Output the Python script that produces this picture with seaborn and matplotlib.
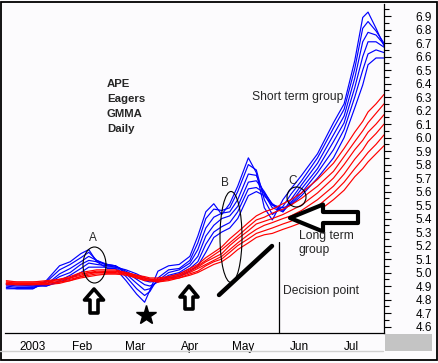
import matplotlib
matplotlib.use("Agg")
import matplotlib.pyplot as plt
from matplotlib.patches import Ellipse, Polygon, Rectangle
from matplotlib.lines import Line2D
from matplotlib.ticker import MultipleLocator
import numpy as np
import pandas as pd
import seaborn as sns

# trading session index (0 = late Dec 2002)
sessions = [0, 4, 10, 15, 20, 24, 28, 31, 34, 38, 41, 45, 49, 52, 54, 57, 61, 65, 69, 72,
            75, 78, 81, 84, 87, 91, 94, 97, 100, 104, 107, 111, 117, 123, 127, 131, 134, 136, 139, 142]

# short term group (blue)
s3 = [4.88, 4.88, 4.88, 4.94, 5.05, 5.08, 5.14, 5.17, 5.08, 5.03, 5.03, 4.94, 4.84, 4.78, 4.87, 5.01, 5.05, 5.06, 5.12, 5.27,
      5.45, 5.51, 5.43, 5.51, 5.64, 5.85, 5.74, 5.48, 5.39, 5.54, 5.62, 5.72, 5.88, 6.11, 6.25, 6.57, 6.89, 6.93, 6.81, 6.68]
s5 = [4.89, 4.88, 4.88, 4.93, 5.02, 5.06, 5.11, 5.15, 5.09, 5.05, 5.04, 4.97, 4.88, 4.83, 4.86, 4.96, 5.02, 5.03, 5.09, 5.22,
      5.40, 5.47, 5.46, 5.48, 5.60, 5.80, 5.76, 5.54, 5.43, 5.49, 5.58, 5.68, 5.85, 6.07, 6.21, 6.51, 6.81, 6.86, 6.79, 6.70]
s8 = [4.90, 4.89, 4.89, 4.91, 4.99, 5.03, 5.08, 5.12, 5.09, 5.06, 5.05, 4.99, 4.92, 4.87, 4.88, 4.94, 5.00, 5.02, 5.07, 5.17,
      5.33, 5.41, 5.44, 5.45, 5.54, 5.73, 5.72, 5.58, 5.48, 5.45, 5.54, 5.65, 5.81, 6.02, 6.16, 6.44, 6.71, 6.78, 6.76, 6.69]
s10 = [4.91, 4.90, 4.90, 4.91, 4.97, 5.00, 5.06, 5.09, 5.08, 5.06, 5.05, 5.00, 4.95, 4.91, 4.90, 4.93, 4.98, 5.00, 5.05, 5.12,
       5.27, 5.35, 5.40, 5.42, 5.49, 5.67, 5.68, 5.60, 5.50, 5.45, 5.52, 5.62, 5.77, 5.97, 6.11, 6.37, 6.60, 6.71, 6.71, 6.67]
s12 = [4.91, 4.91, 4.90, 4.90, 4.94, 4.98, 5.03, 5.07, 5.06, 5.05, 5.05, 5.01, 4.97, 4.94, 4.93, 4.94, 4.97, 4.99, 5.03, 5.08,
       5.21, 5.30, 5.34, 5.37, 5.45, 5.62, 5.63, 5.59, 5.51, 5.46, 5.51, 5.59, 5.74, 5.91, 6.06, 6.30, 6.50, 6.62, 6.65, 6.63]
s15 = [4.92, 4.91, 4.91, 4.90, 4.93, 4.96, 5.00, 5.04, 5.04, 5.04, 5.04, 5.02, 4.99, 4.96, 4.95, 4.94, 4.96, 4.97, 5.01, 5.05,
       5.15, 5.26, 5.30, 5.33, 5.40, 5.57, 5.60, 5.57, 5.50, 5.48, 5.50, 5.57, 5.70, 5.85, 6.00, 6.22, 6.39, 6.54, 6.59, 6.59]

# long term group (red)
l30 = [4.94, 4.93, 4.93, 4.94, 4.95, 4.97, 5.00, 5.01, 5.02, 5.02, 5.02, 5.00, 4.98, 4.97, 4.96, 4.96, 4.97, 4.99, 5.03, 5.06,
       5.11, 5.15, 5.19, 5.25, 5.30, 5.37, 5.42, 5.45, 5.47, 5.51, 5.54, 5.59, 5.69, 5.81, 5.92, 6.04, 6.12, 6.19, 6.25, 6.32]
l35 = [4.93, 4.93, 4.93, 4.93, 4.95, 4.96, 4.99, 5.00, 5.01, 5.01, 5.01, 5.00, 4.98, 4.96, 4.95, 4.95, 4.96, 4.98, 5.02, 5.05,
       5.09, 5.13, 5.17, 5.22, 5.27, 5.34, 5.39, 5.41, 5.44, 5.47, 5.50, 5.55, 5.64, 5.75, 5.86, 5.97, 6.05, 6.11, 6.18, 6.25]
l40 = [4.93, 4.92, 4.92, 4.93, 4.94, 4.96, 4.98, 5.00, 5.00, 5.01, 5.01, 4.99, 4.97, 4.96, 4.95, 4.95, 4.96, 4.98, 5.01, 5.04,
       5.08, 5.11, 5.14, 5.20, 5.25, 5.31, 5.36, 5.38, 5.40, 5.43, 5.46, 5.50, 5.59, 5.70, 5.80, 5.91, 5.98, 6.04, 6.10, 6.17]
l45 = [4.92, 4.92, 4.92, 4.92, 4.93, 4.95, 4.97, 4.99, 5.00, 5.00, 5.00, 4.99, 4.97, 4.95, 4.94, 4.94, 4.95, 4.97, 5.00, 5.03,
       5.06, 5.09, 5.12, 5.17, 5.22, 5.28, 5.32, 5.35, 5.37, 5.40, 5.42, 5.46, 5.54, 5.64, 5.73, 5.84, 5.91, 5.97, 6.03, 6.10]
l50 = [4.92, 4.91, 4.91, 4.92, 4.93, 4.94, 4.97, 4.98, 4.99, 4.99, 4.99, 4.99, 4.96, 4.95, 4.94, 4.93, 4.95, 4.96, 4.99, 5.01,
       5.05, 5.08, 5.10, 5.15, 5.20, 5.25, 5.29, 5.31, 5.33, 5.36, 5.38, 5.42, 5.49, 5.59, 5.67, 5.77, 5.84, 5.89, 5.95, 6.02]
l60 = [4.91, 4.91, 4.91, 4.91, 4.92, 4.94, 4.96, 4.97, 4.98, 4.99, 4.99, 4.98, 4.96, 4.94, 4.94, 4.93, 4.94, 4.96, 4.98, 5.00,
       5.03, 5.06, 5.08, 5.12, 5.17, 5.22, 5.26, 5.28, 5.29, 5.32, 5.34, 5.37, 5.45, 5.54, 5.61, 5.71, 5.77, 5.82, 5.88, 5.94]

month_starts = [4, 24, 44, 65, 84, 106, 126]
month_labels = ["2003", "Feb", "Mar", "Apr", "May", "Jun", "Jul"]

short_term = {"EMA3": s3, "EMA5": s5, "EMA8": s8, "EMA10": s10, "EMA12": s12, "EMA15": s15}
long_term = {"EMA30": l30, "EMA35": l35, "EMA40": l40, "EMA45": l45, "EMA50": l50, "EMA60": l60}

frames = []
for name, vals in list(short_term.items()) + list(long_term.items()):
    frames.append(pd.DataFrame({"session": sessions, "price": vals, "ema": name}))
df = pd.concat(frames, ignore_index=True)

palette = {n: "#0000ff" for n in short_term}
palette.update({n: "#ff0000" for n in long_term})

sns.set_style("white")
plt.rcParams["font.family"] = ["Liberation Sans", "DejaVu Sans"]

W, H = 439, 363
bg = "#fcfbfd"


def fp(x, y):
    # pixel position (top-left origin) -> figure fraction
    return (x / W, 1 - y / H)


fig = plt.figure(figsize=(W / 100, H / 100), dpi=100, facecolor=bg)
ax = fig.add_axes([5 / W, 1 - 333 / H, 379 / W, 329 / H], facecolor=bg)

sns.lineplot(data=df, x="session", y="price", hue="ema", palette=palette,
             legend=False, estimator=None, sort=False, lw=0.85, ax=ax)

ax.set_xlim(-0.5, 142)
ax.set_ylim(4.552, 6.99)
ax.set_xlabel("")
ax.set_ylabel("")

for s in ["left", "top"]:
    ax.spines[s].set_visible(False)
for s in ["right", "bottom"]:
    ax.spines[s].set_color("black")
    ax.spines[s].set_linewidth(0.9)

# y axis on the right
yt = np.round(np.arange(4.6, 6.95, 0.1), 1)
ax.yaxis.tick_right()
ax.set_yticks(yt, labels=[f"{v:.1f}" for v in yt])
ax.yaxis.set_minor_locator(MultipleLocator(0.05))
ax.tick_params(axis="y", which="major", direction="out", length=5, width=0.8,
               color="black", pad=29.5, labelsize=8.5, labelcolor="black")
ax.tick_params(axis="y", which="minor", direction="out", length=3.5, width=0.8, color="black")
for t in ax.get_yticklabels():
    t.set_horizontalalignment("right")

# x axis: month ticks and weekly minor ticks
weekly = []
for i, m in enumerate(month_starts):
    end = month_starts[i + 1] if i + 1 < len(month_starts) else 142
    weekly += list(range(m + 5, end - 1, 5))
weekly = [0] + weekly
ax.set_xticks(month_starts, labels=[""] * len(month_starts))
ax.set_xticks(weekly, minor=True)
ax.tick_params(axis="x", which="major", direction="out", length=12.5, width=0.8, color="black")
ax.tick_params(axis="x", which="minor", direction="out", length=3.5, width=0.8, color="black")
for m, lab in zip(month_starts, month_labels):
    ax.annotate(lab, xy=(m, 0), xycoords=("data", "axes fraction"),
                xytext=(1.5, -6), textcoords="offset points",
                ha="left", va="top", fontsize=8.5, color="black")

# date strip border and grey box
fig.add_artist(Line2D([0 / W, 383 / W], [1 - 350.5 / H] * 2, color="#d0d0d0", lw=1,
                      transform=fig.transFigure))
fig.add_artist(Rectangle(fp(385, 351), 47 / W, 17 / H, transform=fig.transFigure,
                         facecolor="#c4c4c4", edgecolor="none"))

# outer frame
fig.add_artist(Rectangle(fp(1, 360), 436 / W, 358 / H, transform=fig.transFigure,
                         fill=False, edgecolor="black", lw=1.3))

# titles and notes
for txt, yb in zip(["APE", "Eagers", "GMMA", "Daily"], [87, 102, 117, 132]):
    fig.text(*fp(107, yb), txt, fontsize=8.2, fontweight="bold", va="baseline", ha="left")
fig.text(*fp(252, 100), "Short term group", fontsize=8.7, va="baseline")
fig.text(*fp(299, 239), "Long term", fontsize=8.7, va="baseline")
fig.text(*fp(299, 253), "group", fontsize=8.7, va="baseline")
fig.text(*fp(283, 294), "Decision point", fontsize=8.7, va="baseline")
fig.text(*fp(93, 238), "A", fontsize=8.5, ha="center", va="center")
fig.text(*fp(225, 183), "B", fontsize=8.5, ha="center", va="center")
fig.text(*fp(293, 181), "C", fontsize=8.5, ha="center", va="center")

# circles around A, B, C
for cx, cy, w, h in [(94.5, 265, 23, 36), (231, 237, 22, 91), (296.5, 197, 19, 20)]:
    fig.add_artist(Ellipse(fp(cx, cy), w / W, h / H, transform=fig.transFigure,
                           fill=False, edgecolor="black", lw=0.8))

# decision point line and trend line
fig.add_artist(Line2D([279 / W, 279 / W], [1 - 242 / H, 1 - 333 / H], color="black", lw=0.9,
                      transform=fig.transFigure))
fig.add_artist(Line2D([219 / W, 272 / W], [1 - 295 / H, 1 - 246 / H], color="black", lw=3.2,
                      solid_capstyle="round", transform=fig.transFigure))


def up_arrow(cx, top, hw, sw, hh, bottom):
    pts = [(cx, top), (cx + hw, top + hh), (cx + sw, top + hh), (cx + sw, bottom),
           (cx - sw, bottom), (cx - sw, top + hh), (cx - hw, top + hh)]
    return Polygon([fp(*p) for p in pts], closed=True, transform=fig.transFigure,
                   facecolor="white", edgecolor="black", lw=2.6, joinstyle="round")


fig.add_artist(up_arrow(94, 289, 9.5, 4, 11, 313))
fig.add_artist(up_arrow(189, 286, 9, 4, 11, 309))

# big hollow arrow pointing at the long term group
left_pts = [(290, 218), (323, 204.5), (323, 212), (358, 212), (358, 223), (323, 223), (323, 231.5)]
fig.add_artist(Polygon([fp(*p) for p in left_pts], closed=True, transform=fig.transFigure,
                       facecolor="white", edgecolor="black", lw=3.0, joinstyle="round"))

# star under the March low
fig.add_artist(Line2D([146 / W], [1 - 315 / H], marker="*", ms=15, color="black",
                      transform=fig.transFigure))

fig.savefig("out.png", dpi=100, facecolor=bg)
